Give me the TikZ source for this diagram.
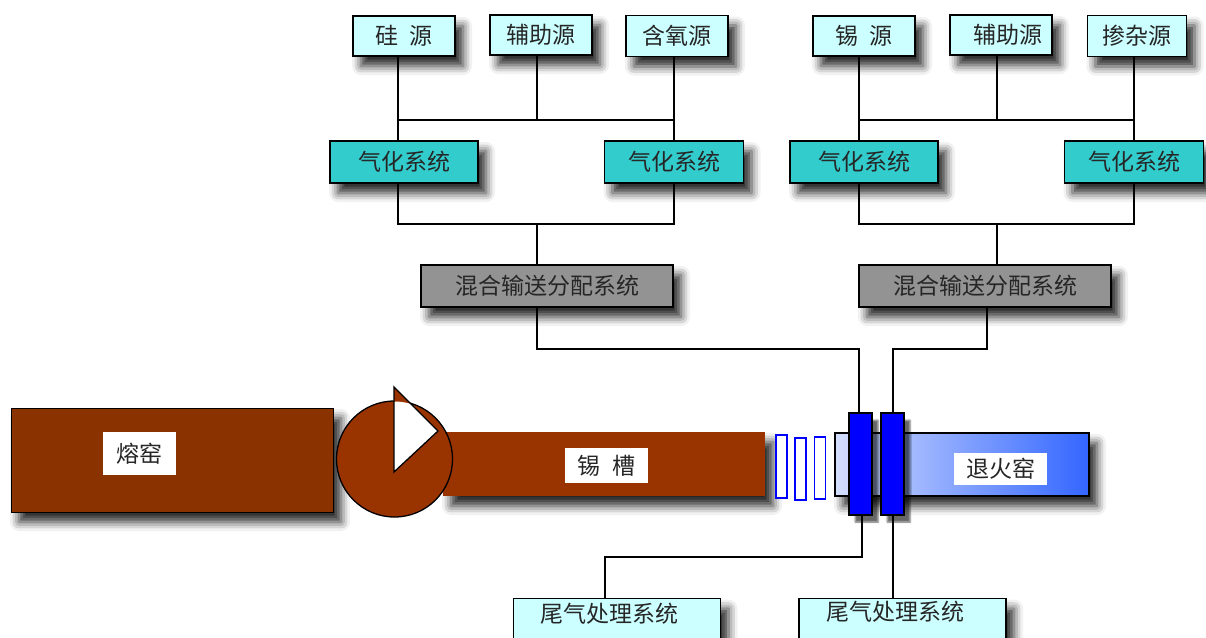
\documentclass[tikz,border=0pt]{standalone}
\usepackage{fontspec}
\newfontfamily\cjk{Noto Sans CJK SC}
\usetikzlibrary{shadows.blur}

\definecolor{srcfill}{HTML}{CCFFFF}
\definecolor{vapfill}{HTML}{33CCCC}
\definecolor{mixfill}{HTML}{939393}
\definecolor{kilnred}{HTML}{8A3300}
\definecolor{bathred}{HTML}{993300}
\definecolor{annlight}{HTML}{D4DEFD}
\definecolor{annblue}{HTML}{3366FF}
\definecolor{valveblue}{HTML}{0000FF}

\tikzset{
  shade box/.style={blur shadow={shadow xshift=8pt, shadow yshift=-10pt,
      shadow blur radius=9pt, shadow opacity=85}},
  box/.style={draw, line width=1.3pt, inner sep=0pt, shade box,
    font=\cjk\fontsize{23}{23}\selectfont, text=black!85},
  srcbox/.style={box, fill=srcfill, minimum width=102pt, minimum height=40pt},
  vapbox/.style={box, fill=vapfill, minimum width=148pt, minimum height=42pt},
  mixbox/.style={box, fill=mixfill, minimum width=252pt, minimum height=42pt},
  tailbox/.style={box, fill=srcfill, minimum width=207pt, minimum height=54pt},
  tag/.style={fill=white, inner sep=0pt, font=\cjk\fontsize{23}{23}\selectfont, text=black!85},
  txt/.style={inner sep=0pt, font=\cjk\fontsize{23}{23}\selectfont, text=black!85},
  ring/.style={draw=valveblue, line width=1.2pt, fill=white, inner sep=0pt, minimum width=11pt},
  valve/.style={draw, line width=1.3pt, fill=valveblue, inner sep=0pt,
    minimum width=23pt, minimum height=102pt},
  pipe/.style={line width=1.5pt}
}

\begin{document}
\begin{tikzpicture}[x=1pt, y=-1pt]
    \useasboundingbox (0,0) rectangle (1206,637);
    \clip (0,0) rectangle (1206,637);

    % sources and vaporizers, left branch
    \node[srcbox] (si)   at (404,36) {硅\hspace{.5em}源};
    \node[srcbox] (auxa) at (541,35) {辅助源};
    \node[srcbox, minimum height=41pt] (oxy) at (677,36) {含氧源};
    \node[vapbox] (vapa) at (404,162) {气化系统};
    \node[vapbox, minimum width=139pt] (vapb) at (674,162) {气化系统};

    % sources and vaporizers, right branch
    \node[srcbox] (sn)   at (864,36) {锡\hspace{.5em}源};
    \node[srcbox] (auxb) at (1001,35) {\hspace{.6em}辅助源};
    \node[srcbox, minimum width=99pt, minimum height=41pt] (dop) at (1137,36) {掺杂源};
    \node[vapbox] (vapc) at (864,162) {气化系统};
    \node[vapbox, minimum width=139pt] (vapd) at (1134,162) {气化系统};

    % mixing and distribution
    \node[mixbox] (mixa) at (547,286) {混合输送分配系统};
    \node[mixbox] (mixb) at (985,286) {混合输送分配系统};

    % bus points
    \coordinate (a1) at (398,120);  \coordinate (a2) at (537,120);  \coordinate (a3) at (674,120);
    \coordinate (b1) at (398,224);  \coordinate (b2) at (537,224);  \coordinate (b3) at (674,224);
    \coordinate (c1) at (859,120);  \coordinate (c2) at (997,120);  \coordinate (c3) at (1134,120);
    \coordinate (d1) at (859,224);  \coordinate (d2) at (997,224);  \coordinate (d3) at (1134,224);

    \draw[pipe] (a1 |- si.south) -- (a1 |- vapa.north);
    \draw[pipe] (a2 |- auxa.south) -- (a2);
    \draw[pipe] (a3 |- oxy.south) -- (a3 |- vapb.north);
    \draw[pipe] (a1) -- (a3);
    \draw[pipe] (a1 |- vapa.south) -- (b1) -- (b3) -- (a3 |- vapb.south);
    \draw[pipe] (b2) -- (b2 |- mixa.north);

    \draw[pipe] (c1 |- sn.south) -- (c1 |- vapc.north);
    \draw[pipe] (c2 |- auxb.south) -- (c2);
    \draw[pipe] (c3 |- dop.south) -- (c3 |- vapd.north);
    \draw[pipe] (c1) -- (c3);
    \draw[pipe] (c1 |- vapc.south) -- (d1) -- (d3) -- (c3 |- vapd.south);
    \draw[pipe] (d2) -- (d2 |- mixb.north);

    % float glass line
    \node[draw, line width=1pt, fill=kilnred, shade box, inner sep=0pt,
      minimum width=322pt, minimum height=104pt] (melt) at (172,460) {};
    \node[fill=bathred, shade box, inner sep=0pt,
      minimum width=322pt, minimum height=64pt] (bath) at (604,464) {};
    \node[circle, draw, line width=1.3pt, fill=bathred, inner sep=0pt,
      minimum size=116pt] (wheel) at (394.5,459) {};
    \coordinate (ta) at (394,387);
    \coordinate (tb) at (438,431);
    \coordinate (tc) at (394,472);
    \fill[bathred] (ta) -- (tb) -- (tc) -- cycle;
    \begin{scope}
      \clip (wheel) circle (57.5);
      \fill[white] (ta) -- (tb) -- (tc) -- cycle;
    \end{scope}
    \draw[line width=1.3pt, line join=miter] (ta) -- (tb) -- (tc) -- cycle;

    \node[ring, minimum height=63pt] (ra) at (781.5,466.5) {};
    \node[ring, minimum height=62pt] (rb) at (800.5,469) {};
    \node[ring, minimum height=62pt] (rc) at (820,468) {};

    \node[draw, line width=1.3pt, left color=annlight, right color=annblue, shade box,
      inner sep=0pt, minimum width=254pt, minimum height=63pt] (anneal) at (962,464.5) {};
    \node[valve, blur shadow={shadow xshift=6pt, shadow yshift=-7pt, shadow opacity=60}] (va) at (860.5,464) {};
    \node[valve, blur shadow={shadow xshift=6pt, shadow yshift=-7pt, shadow opacity=60}] (vb) at (892.5,464) {};

    \node[tag, minimum width=73pt, minimum height=43pt] (meltt) at (139.5,453.5) {熔窑};
    \node[tag, minimum width=83pt, minimum height=35pt] (batht) at (606.5,465.5) {锡\hspace{.5em}槽};
    \node[tag, minimum width=93pt, minimum height=32pt] (annt) at (1000.5,469) {退火窑};

    % feed and exhaust
    \coordinate (e1) at (537,349);  \coordinate (e2) at (859,349);
    \coordinate (e3) at (987,349);  \coordinate (e4) at (893,349);
    \draw[pipe] (e1 |- mixa.south) -- (e1) -- (e2) -- (e2 |- va.north);
    \draw[pipe] (e3 |- mixb.south) -- (e3) -- (e4) -- (e4 |- vb.north);

    \node[tailbox, anchor=north] (taila) at (617,598) {};
    \node[tailbox, anchor=north] (tailb) at (902.5,598) {};
    \node[txt] (tailat) at (609,614) {尾气处理系统};
    \node[txt] (tailbt) at (895,612) {尾气处理系统};

    \coordinate (f1) at (862,557);  \coordinate (f2) at (605,557);
    \coordinate (f3) at (893,557);
    \draw[pipe] (f1 |- va.south) -- (f1) -- (f2) -- (f2 |- taila.north);
    \draw[pipe] (f3 |- vb.south) -- (f3 |- tailb.north);
\end{tikzpicture}
\end{document}
